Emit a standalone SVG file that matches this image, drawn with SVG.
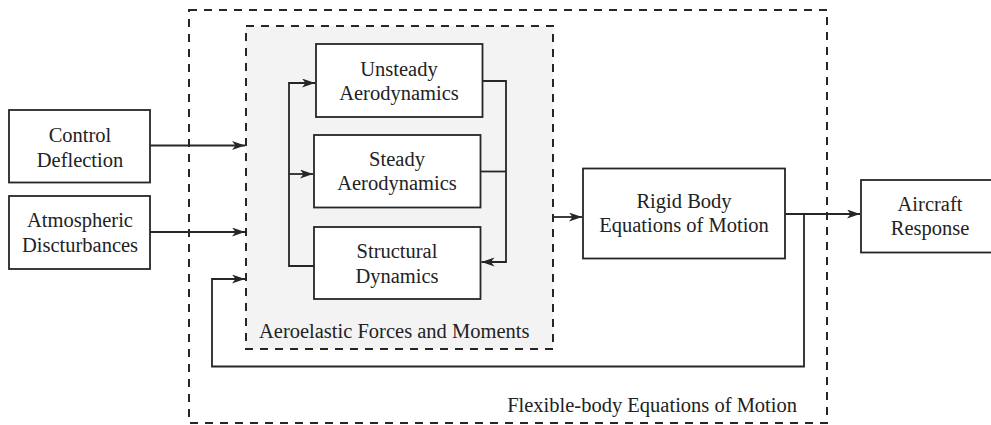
<svg xmlns="http://www.w3.org/2000/svg" width="991" height="425" viewBox="0 0 991 425">
  <style>
    .box { fill: #ffffff; stroke: #262626; stroke-width: 1.8; }
    .frame { fill: none; stroke: #262626; stroke-width: 2; stroke-dasharray: 8 7; }
    .group { fill: #f3f3f3; stroke: #262626; stroke-width: 2; stroke-dasharray: 8 7; }
    .wire { fill: none; stroke: #262626; stroke-width: 1.8; }
    .arrow { marker-end: url(#head); }
    .lbl { font-size: 20.5px; fill: #222222; }
    .c { text-anchor: middle; }
  </style>
  <defs>
    <marker id="head" markerUnits="userSpaceOnUse" markerWidth="14" markerHeight="10" refX="13" refY="4.5" orient="auto">
      <path d="M0,0 L13,4.5 L0,9 L3.5,4.5 Z" fill="#262626"/>
    </marker>
  </defs>

  <g font-family="'Liberation Serif', Tinos, 'Times New Roman', Times, 'DejaVu Serif', serif">
  <!-- enclosing frames -->
  <g id="flexible-body">
    <rect class="frame" x="189" y="10" width="638" height="413"/>
    <text class="lbl" x="797" y="411.5" text-anchor="end">Flexible-body Equations of Motion</text>
  </g>
  <g id="aeroelastic">
    <rect class="group" x="246" y="26" width="307" height="323"/>
    <text class="lbl" x="259" y="338">Aeroelastic Forces and Moments</text>
  </g>

  <!-- blocks -->
  <g id="control-deflection">
    <rect class="box" x="9" y="110" width="141" height="72.5"/>
    <text class="lbl c" x="80" y="142">Control</text>
    <text class="lbl c" x="80" y="166.5">Deflection</text>
  </g>
  <g id="atmospheric-disturbances">
    <rect class="box" x="9" y="196" width="141" height="73"/>
    <text class="lbl c" x="80" y="227">Atmospheric</text>
    <text class="lbl c" x="80" y="251.5">Discturbances</text>
  </g>
  <g id="unsteady-aero">
    <rect class="box" x="316" y="44" width="166.5" height="73"/>
    <text class="lbl c" x="399" y="76">Unsteady</text>
    <text class="lbl c" x="399" y="100">Aerodynamics</text>
  </g>
  <g id="steady-aero">
    <rect class="box" x="314" y="135" width="166.5" height="72.5"/>
    <text class="lbl c" x="397" y="166">Steady</text>
    <text class="lbl c" x="397" y="190">Aerodynamics</text>
  </g>
  <g id="structural-dynamics">
    <rect class="box" x="314" y="227" width="166.5" height="72"/>
    <text class="lbl c" x="397" y="258">Structural</text>
    <text class="lbl c" x="397" y="282.5">Dynamics</text>
  </g>
  <g id="rigid-body">
    <rect class="box" x="583" y="168.5" width="202" height="90"/>
    <text class="lbl c" x="684" y="207.5">Rigid Body</text>
    <text class="lbl c" x="684" y="231.5">Equations of Motion</text>
  </g>
  <g id="aircraft-response">
    <rect class="box" x="861" y="180" width="135" height="72.5"/>
    <text class="lbl c" x="930" y="211">Aircraft</text>
    <text class="lbl c" x="930" y="235">Response</text>
  </g>
  </g>

  <!-- connectors -->
  <g id="connectors">
    <path class="wire arrow" d="M150,145.5 H245"/>
    <path class="wire arrow" d="M150,232 H245"/>
    <path class="wire arrow" d="M804,214 V366.5 H212 V279 H245"/>
    <path class="wire arrow" d="M553,217 H582"/>
    <path class="wire arrow" d="M785,214 H860"/>
    <path class="wire arrow" d="M314,266 H289 V83 H315"/>
    <path class="wire arrow" d="M289,174 H313"/>
    <path class="wire arrow" d="M482.5,81 H506 V262 H481.5"/>
    <path class="wire" d="M480.5,171.5 H506"/>
  </g>
</svg>
